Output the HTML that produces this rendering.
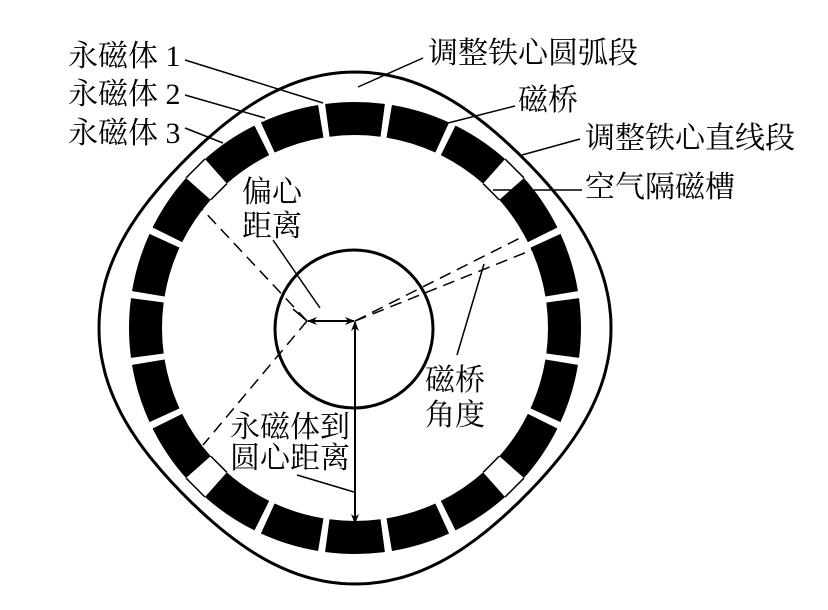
<!DOCTYPE html>
<html><head><meta charset="utf-8"><style>
html,body{margin:0;padding:0;background:#fff;}
svg{display:block;}
text{font-family:"Liberation Serif","Noto Serif CJK SC",serif;font-size:30px;fill:#000;}
</style></head><body>
<svg id="s" width="828" height="610" viewBox="0 0 828 610" xmlns="http://www.w3.org/2000/svg">
<defs>
<marker id="ah" markerWidth="10" markerHeight="10" refX="9" refY="5" orient="auto" markerUnits="userSpaceOnUse">
<path d="M0,1 L10,5 L0,9 L3,5 z" fill="#000"/></marker>
</defs>
<g id="g"></g>
<circle cx="354" cy="329" r="79" fill="none" stroke="#000" stroke-width="3"/>
<g stroke="#000" stroke-width="1.5" fill="none">
<line x1="185" y1="60" x2="323" y2="103"/>
<line x1="185" y1="95" x2="265" y2="118"/>
<line x1="185" y1="128" x2="223" y2="143"/>
<line x1="423" y1="58" x2="358" y2="87"/>
<line x1="515" y1="106" x2="448" y2="123"/>
<line x1="580" y1="139" x2="522" y2="155"/>
<line x1="582" y1="190" x2="493" y2="190"/>
<line x1="273" y1="240" x2="320" y2="308"/>
<line x1="457" y1="355" x2="484" y2="264"/>
<line x1="297" y1="475" x2="354" y2="492"/>
<line x1="307" y1="321" x2="293" y2="309"/>
</g>
<g stroke="#000" stroke-width="1.5" fill="none" stroke-dasharray="12,7">
<line x1="307" y1="321" x2="200" y2="207"/>
<line x1="307" y1="321" x2="203" y2="445"/>
<line x1="355" y1="321" x2="522" y2="237"/>
<line x1="355" y1="321" x2="547" y2="244"/>
</g>
<g stroke="#000" stroke-width="2" fill="none">
<line x1="330" y1="321" x2="308" y2="321" marker-end="url(#ah)"/>
<line x1="330" y1="321" x2="354" y2="321" marker-end="url(#ah)"/>
<line x1="355" y1="420" x2="355" y2="322" marker-end="url(#ah)"/>
<line x1="355" y1="420" x2="355" y2="523" marker-end="url(#ah)"/>
</g>
<text x="68" y="66">永磁体 1</text>
<text x="68" y="104">永磁体 2</text>
<text x="68" y="143">永磁体 3</text>
<text x="428" y="63">调整铁心圆弧段</text>
<text x="518" y="110">磁桥</text>
<text x="585" y="148">调整铁心直线段</text>
<text x="585" y="197">空气隔磁槽</text>
<text x="242" y="202">偏心</text>
<text x="242" y="236">距离</text>
<text x="425" y="390">磁桥</text>
<text x="425" y="425">角度</text>
<text x="230" y="437">永磁体到</text>
<text x="230" y="468">圆心距离</text>
</svg>
<script>
(function(){
var g=document.getElementById('g'),cx=355,cy=328,NS='http://www.w3.org/2000/svg';
function P(r,a){a=a*Math.PI/180;return [cx+r*Math.cos(a),cy-r*Math.sin(a)];}
var pts=[];
for(var t=0;t<360;t+=1){
 var s=Math.sin(2*t*Math.PI/180);
 var r=256-17*s*s;
 pts.push(P(r,t));
}
var p=document.createElementNS(NS,'path');
p.setAttribute('d','M'+pts.map(function(q){return q[0].toFixed(1)+','+q[1].toFixed(1)}).join(' L')+'Z');
p.setAttribute('fill','none');p.setAttribute('stroke','#000');p.setAttribute('stroke-width','3');
g.appendChild(p);
var Ri=193,Ro=226,h=7.6;
var angs=[0,17,34,56,73];
for(var q=0;q<4;q++){
 angs.forEach(function(a){
  var A=a+q*90;
  var a1=P(Ri,A-h),a2=P(Ro,A-h),a3=P(Ro,A+h),a4=P(Ri,A+h);
  var e=document.createElementNS(NS,'path');
  e.setAttribute('d','M'+a1+' L'+a2+' A'+Ro+','+Ro+' 0 0 0 '+a3+' L'+a4+' A'+Ri+','+Ri+' 0 0 1 '+a1+'Z');
  e.setAttribute('fill','#000');g.appendChild(e);
 });
 var s1=P(Ri,34+q*90+h),s2=P(Ri,56+q*90-h);
 var l=document.createElementNS(NS,'path');
 l.setAttribute('d','M'+s1+' L'+s2);l.setAttribute('stroke','#000');l.setAttribute('stroke-width','1.5');
 g.appendChild(l);
 var o1=P(Ro,34+q*90+h),o2=P(Ro,56+q*90-h);
 var l2=document.createElementNS(NS,'path');
 l2.setAttribute('d','M'+o1+' L'+o2);l2.setAttribute('stroke','#000');l2.setAttribute('stroke-width','1.5');
 g.appendChild(l2);
}
})();
</script>
</body></html>
